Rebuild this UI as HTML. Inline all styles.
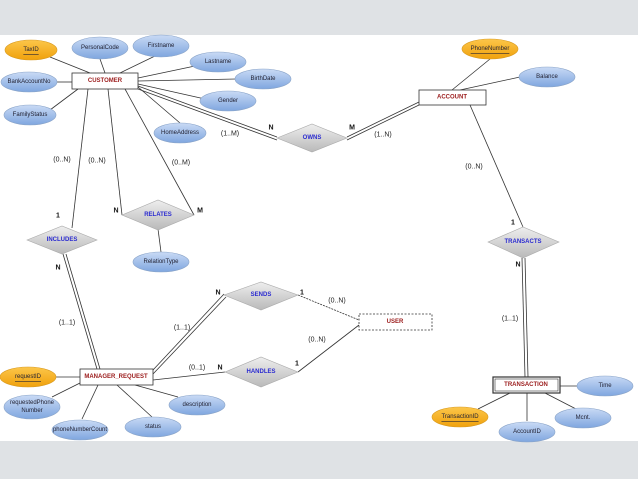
<!DOCTYPE html>
<html><head><meta charset="utf-8"><style>
body{margin:0;background:#fff}
svg{display:block}
text{font-family:"Liberation Sans",sans-serif}
.a{font-size:6px;fill:#223;text-anchor:middle;dominant-baseline:central}
.e{font-size:6px;font-weight:bold;fill:#9b1b1b;text-anchor:middle;dominant-baseline:central}
.r{font-size:6px;font-weight:bold;fill:#2a2ad0;text-anchor:middle;dominant-baseline:central}
.c{font-size:7px;fill:#222;text-anchor:middle;dominant-baseline:central}
.b{font-size:7px;font-weight:bold;fill:#111;text-anchor:middle;dominant-baseline:central}
</style></head><body>
<svg width="638" height="479" viewBox="0 0 638 479" xmlns="http://www.w3.org/2000/svg">
<defs>
<linearGradient id="bl" x1="0" y1="0" x2="0" y2="1"><stop offset="0" stop-color="#c9daf5"/><stop offset="1" stop-color="#7fa6df"/></linearGradient>
<linearGradient id="or" x1="0" y1="0" x2="0" y2="1"><stop offset="0" stop-color="#fcc64a"/><stop offset="1" stop-color="#f0a10c"/></linearGradient>
<linearGradient id="gr" x1="0" y1="0" x2="0" y2="1"><stop offset="0" stop-color="#eeeeee"/><stop offset="1" stop-color="#b9b9b9"/></linearGradient>
</defs>
<rect width="638" height="479" fill="#fff"/>
<rect width="638" height="35" fill="#dfe2e5"/>
<rect y="441" width="638" height="38" fill="#dfe2e5"/>
<g stroke="#333" stroke-width="0.8" fill="none">
<!-- customer attrs -->
<line x1="50" y1="57" x2="90" y2="73"/>
<line x1="100" y1="59" x2="105" y2="73"/>
<line x1="155" y1="56" x2="120" y2="73"/>
<line x1="195" y1="66" x2="138" y2="78"/>
<line x1="236" y1="79" x2="138" y2="81"/>
<line x1="205" y1="99" x2="138" y2="84"/>
<line x1="180" y1="123" x2="138" y2="87"/>
<line x1="57" y1="82" x2="72" y2="82"/>
<line x1="50" y1="110" x2="78" y2="89"/>
<!-- customer relations -->
<line x1="88" y1="89" x2="72" y2="228"/>
<line x1="108" y1="89" x2="122" y2="215"/>
<line x1="125" y1="89" x2="194" y2="215"/>
<line x1="158" y1="229" x2="161" y2="252"/>
<!-- owns double -->
<line x1="138" y1="86" x2="277" y2="137"/>
<line x1="138" y1="89" x2="277" y2="140"/>
<line x1="347" y1="137" x2="419" y2="102"/>
<line x1="347" y1="140" x2="419" y2="105"/>
<!-- account -->
<line x1="490" y1="59" x2="452" y2="90"/>
<line x1="520" y1="77" x2="460" y2="90"/>
<line x1="470" y1="105" x2="523" y2="227"/>
<!-- transacts double -->
<line x1="522" y1="258" x2="525" y2="377"/>
<line x1="525" y1="258" x2="528" y2="377"/>
<!-- includes double -->
<line x1="63" y1="254" x2="97" y2="369"/>
<line x1="66" y1="254" x2="100" y2="369"/>
<!-- sends double -->
<line x1="153" y1="370" x2="224" y2="294"/>
<line x1="153" y1="374" x2="226" y2="297"/>
<line x1="298" y1="295" x2="359" y2="320" stroke-dasharray="2,1"/>
<line x1="153" y1="380" x2="225" y2="372"/>
<line x1="298" y1="372" x2="359" y2="325"/>
<!-- mr attrs -->
<line x1="56" y1="377" x2="80" y2="377"/>
<line x1="52" y1="397" x2="80" y2="383"/>
<line x1="82" y1="419" x2="98" y2="385"/>
<line x1="152" y1="417" x2="117" y2="385"/>
<line x1="178" y1="397" x2="135" y2="385"/>
<!-- transaction attrs -->
<line x1="560" y1="386" x2="580" y2="386"/>
<line x1="545" y1="393" x2="578" y2="410"/>
<line x1="527" y1="393" x2="527" y2="421"/>
<line x1="510" y1="393" x2="478" y2="409"/>
</g>
<!-- ellipses -->
<g stroke="#8aa4c8" stroke-width="0.6">
<ellipse cx="31" cy="50" rx="26" ry="10" fill="url(#or)" stroke="#d89a20"/>
<ellipse cx="100" cy="48" rx="28" ry="11" fill="url(#bl)"/>
<ellipse cx="161" cy="46" rx="28" ry="11" fill="url(#bl)"/>
<ellipse cx="218" cy="62" rx="28" ry="10" fill="url(#bl)"/>
<ellipse cx="263" cy="79" rx="28" ry="10" fill="url(#bl)"/>
<ellipse cx="228" cy="101" rx="28" ry="10" fill="url(#bl)"/>
<ellipse cx="180" cy="133" rx="26" ry="10" fill="url(#bl)"/>
<ellipse cx="29" cy="82" rx="28" ry="10" fill="url(#bl)"/>
<ellipse cx="30" cy="115" rx="26" ry="10" fill="url(#bl)"/>
<ellipse cx="490" cy="49" rx="28" ry="10" fill="url(#or)" stroke="#d89a20"/>
<ellipse cx="547" cy="77" rx="28" ry="10" fill="url(#bl)"/>
<ellipse cx="161" cy="262" rx="28" ry="10" fill="url(#bl)"/>
<ellipse cx="28" cy="377" rx="28" ry="10" fill="url(#or)" stroke="#d89a20"/>
<ellipse cx="32" cy="407" rx="28" ry="12" fill="url(#bl)"/>
<ellipse cx="80" cy="430" rx="28" ry="10" fill="url(#bl)"/>
<ellipse cx="153" cy="427" rx="28" ry="10" fill="url(#bl)"/>
<ellipse cx="197" cy="405" rx="28" ry="10" fill="url(#bl)"/>
<ellipse cx="460" cy="417" rx="28" ry="10" fill="url(#or)" stroke="#d89a20"/>
<ellipse cx="527" cy="432" rx="28" ry="10" fill="url(#bl)"/>
<ellipse cx="583" cy="418" rx="28" ry="10" fill="url(#bl)"/>
<ellipse cx="605" cy="386" rx="28" ry="10" fill="url(#bl)"/>
</g>
<g>
<text class="a" x="31" y="50" text-decoration="underline">TaxID</text>
<text class="a" x="100" y="48">PersonalCode</text>
<text class="a" x="161" y="46">Firstname</text>
<text class="a" x="218" y="62">Lastname</text>
<text class="a" x="263" y="79">BirthDate</text>
<text class="a" x="228" y="101">Gender</text>
<text class="a" x="180" y="133">HomeAddress</text>
<text class="a" x="29" y="82">BankAccountNo</text>
<text class="a" x="30" y="115">FamilyStatus</text>
<text class="a" x="490" y="49" text-decoration="underline">PhoneNumber</text>
<text class="a" x="547" y="77">Balance</text>
<text class="a" x="161" y="262">RelationType</text>
<text class="a" x="28" y="377" text-decoration="underline">requestID</text>
<text class="a" x="32" y="403">requestedPhone</text>
<text class="a" x="32" y="411">Number</text>
<text class="a" x="80" y="430">phoneNumberCount</text>
<text class="a" x="153" y="427">status</text>
<text class="a" x="197" y="405">description</text>
<text class="a" x="460" y="417" text-decoration="underline">TransactionID</text>
<text class="a" x="527" y="432">AccountID</text>
<text class="a" x="583" y="418">Mcnt.</text>
<text class="a" x="605" y="386">Time</text>
</g>
<!-- entities -->
<g stroke="#333" stroke-width="0.8" fill="#fff">
<rect x="72" y="73" width="66" height="16"/>
<rect x="419" y="90" width="67" height="15"/>
<rect x="80" y="369" width="73" height="16"/>
<rect x="493" y="377" width="67" height="16" stroke-width="1.2"/>
<rect x="495" y="379" width="63" height="12" stroke-width="0.6"/>
<rect x="359" y="314" width="73" height="16" stroke-dasharray="2,1.5"/>
</g>
<text class="e" x="105" y="81">CUSTOMER</text>
<text class="e" x="452" y="97.5">ACCOUNT</text>
<text class="e" x="116" y="377">MANAGER_REQUEST</text>
<text class="e" x="526" y="385">TRANSACTION</text>
<text class="e" x="395" y="322">USER</text>
<!-- diamonds -->
<g fill="url(#gr)" stroke="#aaa" stroke-width="0.6">
<polygon points="277,138 312,124 347,138 312,152"/>
<polygon points="122,215 158,200 194,215 158,230"/>
<polygon points="27,240 62,226 97,240 62,254"/>
<polygon points="488,242 523,227 559,242 523,258"/>
<polygon points="224,295 261,282 298,295 261,310"/>
<polygon points="225,372 261,357 298,372 261,387"/>
</g>
<text class="r" x="312" y="138">OWNS</text>
<text class="r" x="158" y="215">RELATES</text>
<text class="r" x="62" y="240">INCLUDES</text>
<text class="r" x="523" y="242">TRANSACTS</text>
<text class="r" x="261" y="295">SENDS</text>
<text class="r" x="261" y="372">HANDLES</text>
<!-- cardinalities -->
<text class="b" x="271" y="128">N</text>
<text class="b" x="352" y="128">M</text>
<text class="c" x="230" y="134">(1..M)</text>
<text class="c" x="383" y="135">(1..N)</text>
<text class="c" x="62" y="160">(0..N)</text>
<text class="c" x="97" y="161">(0..N)</text>
<text class="c" x="181" y="163">(0..M)</text>
<text class="b" x="58" y="216">1</text>
<text class="b" x="116" y="211">N</text>
<text class="b" x="200" y="211">M</text>
<text class="b" x="58" y="268">N</text>
<text class="c" x="67" y="323">(1..1)</text>
<text class="c" x="474" y="167">(0..N)</text>
<text class="b" x="513" y="223">1</text>
<text class="b" x="518" y="265">N</text>
<text class="c" x="510" y="319">(1..1)</text>
<text class="b" x="218" y="293">N</text>
<text class="b" x="302" y="293">1</text>
<text class="c" x="337" y="301">(0..N)</text>
<text class="c" x="182" y="328">(1..1)</text>
<text class="c" x="317" y="340">(0..N)</text>
<text class="c" x="197" y="368">(0..1)</text>
<text class="b" x="220" y="368">N</text>
<text class="b" x="297" y="364">1</text>
</svg>
</body></html>
